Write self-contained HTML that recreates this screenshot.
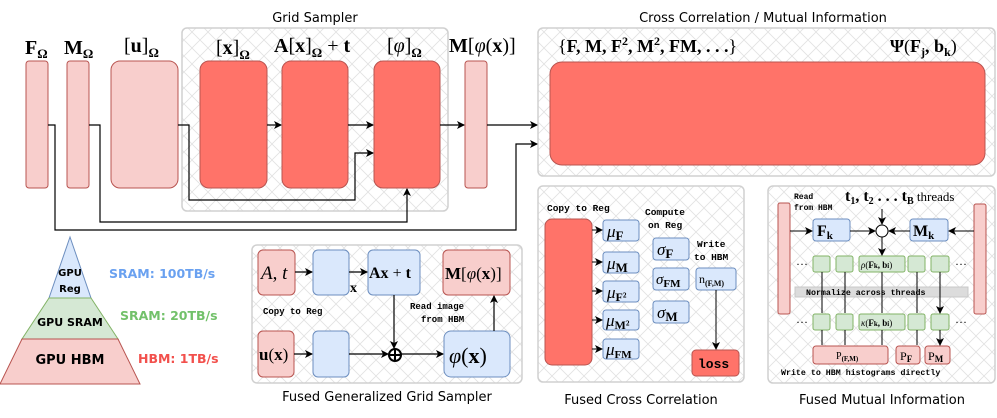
<!DOCTYPE html>
<html><head><meta charset="utf-8"><style>
body{margin:0;background:#fff;width:997px;height:418px;overflow:hidden}
svg{display:block}
.m{font-family:"Liberation Serif",serif}
.s{font-family:"DejaVu Sans","Liberation Sans",sans-serif}
.mono{font-family:"Liberation Mono",monospace;font-weight:bold}
</style></head><body>
<svg width="997" height="418" viewBox="0 0 997 418" xmlns="http://www.w3.org/2000/svg">
<defs>
<pattern id="h" width="16" height="16" patternUnits="userSpaceOnUse">
<rect width="16" height="16" fill="#fff"/>
<path d="M0 0L16 16M16 0L0 16" stroke="#e2e2e2" stroke-width="0.8"/>
</pattern>
<marker id="a" markerWidth="8" markerHeight="8" refX="7" refY="4" orient="auto" markerUnits="userSpaceOnUse"><path d="M0 0L8 4L0 8L2 4z" fill="#000"/></marker>
</defs>

<!-- containers -->
<rect x="182" y="28" width="266" height="183" rx="5" fill="url(#h)" stroke="#d0d0d0" stroke-width="1.5"/>
<rect x="538" y="28" width="457" height="148" rx="5" fill="url(#h)" stroke="#d0d0d0" stroke-width="1.5"/>
<rect x="252" y="245" width="270" height="138" rx="5" fill="url(#h)" stroke="#d0d0d0" stroke-width="1.5"/>
<rect x="538" y="186" width="206" height="196" rx="5" fill="url(#h)" stroke="#d0d0d0" stroke-width="1.5"/>
<rect x="768" y="186" width="227" height="197" rx="5" fill="url(#h)" stroke="#d0d0d0" stroke-width="1.5"/>

<text x="315" y="22" class="s" font-size="13" text-anchor="middle">Grid Sampler</text>
<text x="763" y="22" class="s" font-size="13" text-anchor="middle">Cross Correlation / Mutual Information</text>
<text x="387" y="401" class="s" font-size="13" text-anchor="middle">Fused Generalized Grid Sampler</text>
<text x="641" y="404" class="s" font-size="13" text-anchor="middle">Fused Cross Correlation</text>
<text x="882" y="404" class="s" font-size="13" text-anchor="middle">Fused Mutual Information</text>

<!-- top boxes -->
<rect x="26" y="61" width="22" height="127" rx="3" fill="#f8cecc" stroke="#b85450"/>
<rect x="67" y="61" width="22" height="127" rx="3" fill="#f8cecc" stroke="#b85450"/>
<rect x="111" y="61" width="67" height="127" rx="9" fill="#f8cecc" stroke="#b85450"/>
<rect x="200" y="61" width="67" height="127" rx="9" fill="#ff7369" stroke="#b85450"/>
<rect x="282" y="61" width="66" height="127" rx="9" fill="#ff7369" stroke="#b85450"/>
<rect x="374" y="61" width="66" height="127" rx="9" fill="#ff7369" stroke="#b85450"/>
<rect x="465" y="61" width="22" height="127" rx="3" fill="#f8cecc" stroke="#b85450"/>
<rect x="550" y="62" width="435" height="103" rx="12" fill="#ff7369" stroke="#b85450"/>

<g class="m" font-size="20" font-weight="bold">
<text x="25" y="54">F<tspan font-size="13" dy="4">Ω</tspan></text>
<text x="64" y="54">M<tspan font-size="13" dy="4">Ω</tspan></text>
<text x="124" y="52" font-weight="normal">[<tspan font-weight="bold">u</tspan>]<tspan font-size="13" dy="5" font-weight="bold">Ω</tspan></text>
<text x="216" y="54" font-weight="normal">[<tspan font-weight="bold">x</tspan>]<tspan font-size="13" dy="5" font-weight="bold">Ω</tspan></text>
<text x="274" y="52">A<tspan font-weight="normal">[</tspan>x<tspan font-weight="normal">]</tspan><tspan font-size="13" dy="5">Ω</tspan><tspan dy="-5" font-weight="normal"> + </tspan>t</text>
<text x="387" y="52" font-weight="normal">[<tspan font-style="italic">φ</tspan>]<tspan font-size="13" dy="5" font-weight="bold">Ω</tspan></text>
<text x="449" y="52">M<tspan font-weight="normal">[<tspan font-style="italic">φ</tspan>(</tspan>x<tspan font-weight="normal">)]</tspan></text>
<text x="558" y="52" font-size="18"><tspan font-weight="normal">{</tspan>F, M, F<tspan font-size="12" dy="-7">2</tspan><tspan dy="7">, M</tspan><tspan font-size="12" dy="-7">2</tspan><tspan dy="7">, FM, . . .</tspan><tspan font-weight="normal">}</tspan></text>
<text x="890" y="52" font-size="18">Ψ<tspan font-weight="normal">(</tspan>F<tspan font-size="12" dy="4">j</tspan><tspan dy="-4">, b</tspan><tspan font-size="12" dy="4">k</tspan><tspan dy="-4" font-weight="normal">)</tspan></text>
</g>

<!-- top connectors -->
<g fill="none" stroke="#000" stroke-width="1.2">
<path d="M267 125H281" marker-end="url(#a)"/>
<path d="M348 125H373" marker-end="url(#a)"/>
<path d="M440 125H464" marker-end="url(#a)"/>
<path d="M487 125H537" marker-end="url(#a)"/>
<path d="M178 125H189V200H355V153H373" marker-end="url(#a)"/>
<path d="M89 125H100V222H407V189" marker-end="url(#a)"/>
<path d="M48 125H55V230H516V144H537" marker-end="url(#a)"/>
</g>

<!-- pyramid -->
<polygon points="70,237 49,298 91,298" fill="#dae8fc" stroke="#6c8ebf"/>
<polygon points="49,298 91,298 118,339 22,339" fill="#d5e8d4" stroke="#82b366"/>
<polygon points="22,339 118,339 140,384 0,384" fill="#f8cecc" stroke="#b85450"/>
<g class="s" font-weight="bold" text-anchor="middle">
<text x="70" y="276" font-size="10">GPU</text>
<text x="70" y="292" font-size="10">Reg</text>
<text x="70" y="326" font-size="11">GPU SRAM</text>
<text x="70" y="364" font-size="13">GPU HBM</text>
</g>
<g class="s" font-weight="bold" font-size="12.5">
<text x="109" y="278" fill="#6aa1f0">SRAM: 100TB/s</text>
<text x="120" y="320" fill="#72c16a">SRAM: 20TB/s</text>
<text x="138" y="363" fill="#f2504c">HBM: 1TB/s</text>
</g>

<!-- fused grid sampler -->
<rect x="258" y="250" width="37" height="45" rx="5" fill="#f8cecc" stroke="#b85450"/>
<rect x="313" y="250" width="36" height="45" rx="5" fill="#dae8fc" stroke="#6c8ebf"/>
<rect x="368" y="250" width="52" height="45" rx="5" fill="#dae8fc" stroke="#6c8ebf"/>
<rect x="443" y="250" width="67" height="45" rx="5" fill="#f8cecc" stroke="#b85450"/>
<rect x="258" y="331" width="36" height="46" rx="5" fill="#f8cecc" stroke="#b85450"/>
<rect x="313" y="331" width="36" height="46" rx="5" fill="#dae8fc" stroke="#6c8ebf"/>
<rect x="444" y="331" width="66" height="46" rx="7" fill="#dae8fc" stroke="#6c8ebf"/>
<g class="m" font-size="19">
<text x="261" y="279" font-style="italic">A<tspan font-style="normal">, </tspan>t</text>
<text x="369" y="278" font-size="16" font-weight="bold">Ax<tspan font-weight="normal"> + </tspan>t</text>
<text x="445" y="279" font-size="17" font-weight="bold">M<tspan font-weight="normal">[<tspan font-style="italic">φ</tspan>(</tspan>x<tspan font-weight="normal">)]</tspan></text>
<text x="259" y="360" font-size="17"><tspan font-weight="bold">u</tspan>(<tspan font-weight="bold">x</tspan>)</text>
<text x="449" y="363" font-size="22"><tspan font-style="italic">φ</tspan>(<tspan font-weight="bold">x</tspan>)</text>
<text x="350" y="292" font-size="14" font-weight="bold">x</text>
</g>
<g class="mono" font-size="9">
<text x="263" y="314">Copy to Reg</text>
<text x="410" y="309">Read image</text>
<text x="421" y="322">from HBM</text>
</g>
<g fill="none" stroke="#000" stroke-width="1.2">
<path d="M295 272H312" marker-end="url(#a)"/>
<path d="M349 272H367" marker-end="url(#a)"/>
<path d="M294 354H312" marker-end="url(#a)"/>
<path d="M349 354H388" marker-end="url(#a)"/>
<path d="M394 295V348" marker-end="url(#a)"/>
<path d="M401 354H443" marker-end="url(#a)"/>
<path d="M494 331V296" marker-end="url(#a)"/>
<circle cx="395" cy="355" r="6" stroke-width="2"/>
<path d="M389 355H401M395 349V361" stroke-width="2"/>
</g>

<!-- fused CC -->
<rect x="545" y="219" width="47" height="146" rx="7" fill="#ff7369" stroke="#b85450"/>
<g fill="#dae8fc" stroke="#6c8ebf">
<rect x="603" y="220" width="36" height="21" rx="3"/>
<rect x="603" y="252" width="36" height="21" rx="3"/>
<rect x="603" y="281" width="36" height="21" rx="3"/>
<rect x="603" y="310" width="36" height="20" rx="3"/>
<rect x="603" y="339" width="36" height="20" rx="3"/>
<rect x="653" y="238" width="36" height="22" rx="3"/>
<rect x="653" y="268" width="36" height="22" rx="3"/>
<rect x="653" y="301" width="36" height="22" rx="3"/>
<rect x="696" y="268" width="40" height="22" rx="3"/>
</g>
<rect x="692" y="350" width="47" height="26" rx="4" fill="#ff7369" stroke="#b85450"/>
<g fill="none" stroke="#000" stroke-width="1">
<path d="M592 230H602" marker-end="url(#a)"/>
<path d="M592 262H602" marker-end="url(#a)"/>
<path d="M592 291H602" marker-end="url(#a)"/>
<path d="M592 320H602" marker-end="url(#a)"/>
<path d="M592 349H602" marker-end="url(#a)"/>
<path d="M716 290V349" marker-end="url(#a)"/>
</g>
<g class="m" font-size="17">
<text x="607" y="237" font-style="italic">μ<tspan font-style="normal" font-weight="bold" font-size="13" dy="3">F</tspan></text>
<text x="607" y="269" font-style="italic">μ<tspan font-style="normal" font-weight="bold" font-size="13" dy="3">M</tspan></text>
<text x="607" y="298" font-style="italic">μ<tspan font-style="normal" font-weight="bold" font-size="12" dy="3">F²</tspan></text>
<text x="606" y="326" font-style="italic">μ<tspan font-style="normal" font-weight="bold" font-size="12" dy="3">M²</tspan></text>
<text x="606" y="355" font-style="italic">μ<tspan font-style="normal" font-weight="bold" font-size="11" dy="3">FM</tspan></text>
<text x="657" y="255" font-style="italic">σ<tspan font-style="normal" font-weight="bold" font-size="13" dy="3">F</tspan></text>
<text x="656" y="284" font-style="italic" font-size="15">σ<tspan font-style="normal" font-weight="bold" font-size="11" dy="3">FM</tspan></text>
<text x="657" y="318" font-style="italic">σ<tspan font-style="normal" font-weight="bold" font-size="13" dy="3">M</tspan></text>
<text x="699" y="283" font-size="12">n<tspan font-size="8" font-weight="bold" dy="3">(F,M)</tspan></text>
</g>
<g class="mono" font-size="9.5">
<text x="547" y="211">Copy to Reg</text>
<text x="645" y="215">Compute</text>
<text x="648" y="228">on Reg</text>
<text x="697" y="247">Write</text>
<text x="694" y="260">to HBM</text>
<text x="698" y="368" font-size="13">loss</text>
</g>

<!-- fused MI -->
<rect x="778" y="203" width="12" height="111" rx="2" fill="#f8cecc" stroke="#b85450"/>
<rect x="974" y="204" width="12" height="110" rx="2" fill="#f8cecc" stroke="#b85450"/>
<rect x="813" y="219" width="37" height="22" rx="3" fill="#dae8fc" stroke="#6c8ebf"/>
<rect x="910" y="219" width="38" height="22" rx="3" fill="#dae8fc" stroke="#6c8ebf"/>
<circle cx="882" cy="231" r="6" fill="#fff" stroke="#000"/>
<g fill="#d5e8d4" stroke="#82b366">
<rect x="813" y="256" width="17" height="16" rx="2"/><rect x="836" y="256" width="17" height="16" rx="2"/>
<rect x="859" y="256" width="46" height="16" rx="2"/><rect x="908" y="256" width="17" height="16" rx="2"/>
<rect x="931" y="256" width="18" height="16" rx="2"/>
<rect x="813" y="314" width="17" height="16" rx="2"/><rect x="836" y="314" width="17" height="16" rx="2"/>
<rect x="859" y="314" width="46" height="16" rx="2"/><rect x="908" y="314" width="17" height="16" rx="2"/>
<rect x="931" y="314" width="18" height="16" rx="2"/>
</g>
<rect x="795" y="287" width="173" height="10" fill="#dcdcdc" stroke="#c8c8c8"/>
<g fill="#f8cecc" stroke="#b85450">
<rect x="813" y="346" width="75" height="18" rx="3"/>
<rect x="896" y="346" width="24" height="18" rx="3"/>
<rect x="925" y="346" width="25" height="18" rx="3"/>
</g>
<g fill="none" stroke="#000" stroke-width="1">
<path d="M790 231H812" marker-end="url(#a)"/>
<path d="M850 231H875" marker-end="url(#a)"/>
<path d="M910 231H889" marker-end="url(#a)"/>
<path d="M974 231H949" marker-end="url(#a)"/>
<path d="M882 209V224" marker-end="url(#a)"/>
<path d="M882 237V255" marker-end="url(#a)"/>
<path d="M822 272V313M845 272V313M882 272V313M917 272V313M940 272V313" marker-end="url(#a)"/>
<path d="M822 330V345M845 330V345M882 330V345M917 330V345M940 330V345" marker-end="url(#a)"/>
</g>
<g class="m">
<text x="817" y="236" font-size="16" font-weight="bold">F<tspan font-size="11" dy="3">k</tspan></text>
<text x="913" y="236" font-size="16" font-weight="bold">M<tspan font-size="11" dy="3">k</tspan></text>
<text x="845" y="201" font-size="16"><tspan font-weight="bold">t<tspan font-size="10" dy="3">1</tspan><tspan dy="-3">, t</tspan><tspan font-size="10" dy="3">2</tspan><tspan dy="-3"> . . . t</tspan><tspan font-size="10" dy="3">B</tspan></tspan><tspan dy="-3" font-size="13"> threads</tspan></text>
<text x="861" y="268" font-size="9"><tspan font-style="italic">ρ</tspan>(<tspan font-weight="bold">F<tspan font-size="7">k</tspan>, b<tspan font-size="7">i</tspan></tspan>)</text>
<text x="861" y="326" font-size="9"><tspan font-style="italic">κ</tspan>(<tspan font-weight="bold">F<tspan font-size="7">k</tspan>, b<tspan font-size="7">i</tspan></tspan>)</text>
<text x="836" y="359" font-size="10">P<tspan font-size="7" font-weight="bold" dy="2">(F,M)</tspan></text>
<text x="900" y="360" font-size="12">P<tspan font-size="9" font-weight="bold" dy="2">F</tspan></text>
<text x="928" y="360" font-size="12">P<tspan font-size="9" font-weight="bold" dy="2">M</tspan></text>
<text x="796" y="268" font-size="12">···</text><text x="955" y="268" font-size="12">···</text>
<text x="796" y="326" font-size="12">···</text><text x="955" y="326" font-size="12">···</text>
</g>
<g class="mono" font-size="8">
<text x="794" y="199">Read</text>
<text x="794" y="210">from HBM</text>
<text x="806" y="295" font-size="8.3">Normalize across threads</text>
<text x="781" y="375" font-size="8.3">Write to HBM histograms directly</text>
</g>
</svg>
</body></html>
